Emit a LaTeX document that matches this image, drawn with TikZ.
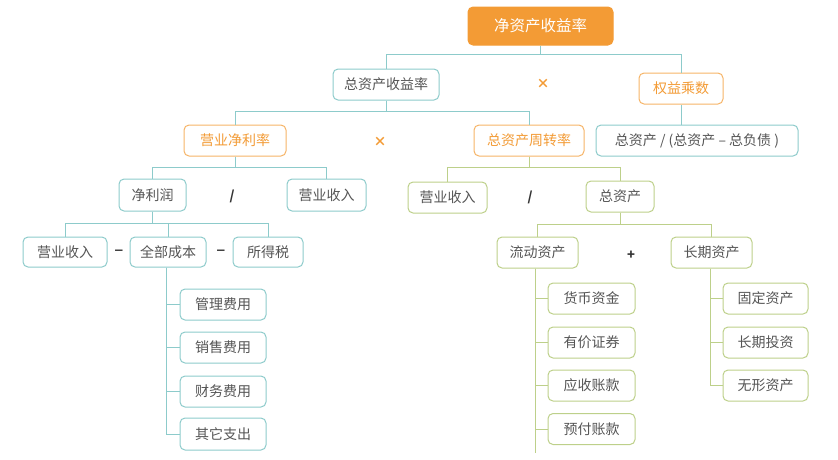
\documentclass[tikz,border=0pt]{standalone}
\usepackage{fontspec}
\setmainfont{Noto Sans CJK SC}
\newfontfamily\symfont{DejaVu Sans}
\definecolor{orng}{HTML}{F39B35}
\definecolor{teal2}{HTML}{8DCBCB}
\definecolor{grn}{HTML}{BDD08A}
\definecolor{txt}{HTML}{555555}
\begin{document}
\begin{tikzpicture}[x=1pt,y=-1pt,
  box/.style={draw=teal2,line width=1pt,rounded corners=5pt,fill=white,text=txt,font=\fontsize{14}{15}\selectfont,minimum height=31pt,inner sep=0pt},
  obox/.style={box,draw=orng!75,text=orng},
  gbox/.style={box,draw=grn},
  tline/.style={draw=teal2,line width=1pt},
  gline/.style={draw=grn,line width=1pt},
  sym/.style={font=\fontsize{13}{14}\selectfont\bfseries,inner sep=0pt}]
\useasboundingbox (0,0) rectangle (838,459);
% nodes
\node[box,fill=orng,draw=orng,text=white,minimum width=145pt,minimum height=38pt,font=\fontsize{15.5}{16}\selectfont] (top) at (540.5,26) {净资产收益率};
\node[box,minimum width=106pt] (zzsy) at (386,84.5) {总资产收益率};
\node[obox,minimum width=84pt] (qycs) at (681,88.5) {权益乘数};
\node[obox,minimum width=102pt] (yyjl) at (235,140.5) {营业净利率};
\node[obox,minimum width=110pt] (zzzz) at (529,140.5) {总资产周转率};
\node[box,minimum width=202pt] (frm) at (697,140.5) {总资产 / (总资产 – 总负债 )};
\node[box,minimum width=67pt,minimum height=32pt] (jlr) at (152.5,195) {净利润};
\node[box,minimum width=79pt,minimum height=32pt] (sr1) at (326.5,195) {营业收入};
\node[gbox,minimum width=79pt] (sr2) at (447.5,197.5) {营业收入};
\node[gbox,minimum width=68pt] (zzc) at (620,196.5) {总资产};
\node[box,minimum width=84pt,minimum height=30pt] (sr3) at (65,252) {营业收入};
\node[box,minimum width=76pt,minimum height=30pt] (qbcb) at (168,252) {全部成本};
\node[box,minimum width=70pt,minimum height=30pt] (sds) at (268,252) {所得税};
\node[gbox,minimum width=81pt] (ldzc) at (537.5,252.5) {流动资产};
\node[gbox,minimum width=81pt] (cqzc) at (711.5,252.5) {长期资产};
\node[box,minimum width=86pt] (c1) at (223,304.5) {管理费用};
\node[box,minimum width=86pt] (c2) at (223,347.5) {销售费用};
\node[box,minimum width=86pt] (c3) at (223,391.5) {财务费用};
\node[box,minimum width=86pt,minimum height=32pt] (c4) at (223,434) {其它支出};
\node[gbox,minimum width=87pt] (l1) at (591.5,298.5) {货币资金};
\node[gbox,minimum width=87pt] (l2) at (591.5,342.5) {有价证券};
\node[gbox,minimum width=87pt] (l3) at (591.5,385.5) {应收账款};
\node[gbox,minimum width=87pt] (l4) at (591.5,429) {预付账款};
\node[gbox,minimum width=85pt] (r1) at (765.5,298.5) {固定资产};
\node[gbox,minimum width=85pt] (r2) at (765.5,342.5) {长期投资};
\node[gbox,minimum width=85pt] (r3) at (765.5,385.5) {无形资产};
\coordinate (ldend) at (537.5,453);
% symbols
\node[sym,text=orng] (x1) at (543,84) {×};
\node[sym,text=orng] (x2) at (380,142) {×};
\node[sym,text=black!80] (d1) at (232,196) {/};
\node[sym,text=black!80] (d2) at (530,197) {/};
\node[sym,text=black!80,font=\symfont\bfseries\fontsize{12}{13}\selectfont] (m1) at (119,252) {−};
\node[sym,text=black!80,font=\symfont\bfseries\fontsize{12}{13}\selectfont] (m2) at (221,252) {−};
\node[sym,text=black!80] (p1) at (631,255) {+};
% connectors
\draw[tline] (top.south) -- ++(0,9) -| (zzsy.north);
\draw[tline] (top.south) -- ++(0,9) -| (qycs.north);
\draw[tline] (zzsy.south) -- ++(0,11) -| (yyjl.north);
\draw[tline] (zzsy.south) -- ++(0,11) -| (zzzz.north);
\draw[tline] (qycs.south) -- (qycs.south |- frm.north);
\draw[tline] (yyjl.south) -- ++(0,11) -| (jlr.north);
\draw[tline] (yyjl.south) -- ++(0,11) -| (sr1.north);
\draw[gline] (zzzz.south) -- ++(0,11) -| (sr2.north);
\draw[gline] (zzzz.south) -- ++(0,11) -| (zzc.north);
\draw[tline] (jlr.south) -- ++(0,12) -| (sr3.north);
\draw[tline] (jlr.south) -- ++(0,12) -| (qbcb.north);
\draw[tline] (jlr.south) -- ++(0,12) -| (sds.north);
\draw[gline] (zzc.south) -- ++(0,12) -| (ldzc.north);
\draw[gline] (zzc.south) -- ++(0,12) -| (cqzc.north);
\foreach \c in {c1,c2,c3,c4} \draw[tline] ([xshift=-2pt]qbcb.south) |- (\c.west);
\foreach \c in {l1,l2,l3,l4} \draw[gline] ([xshift=-2pt]ldzc.south) |- (\c.west);
\draw[gline] ([xshift=-2pt]ldzc.south) -- ([xshift=-2pt]ldend);
\foreach \c in {r1,r2,r3} \draw[gline] ([xshift=-1pt]cqzc.south) |- (\c.west);
\end{tikzpicture}
\end{document}
